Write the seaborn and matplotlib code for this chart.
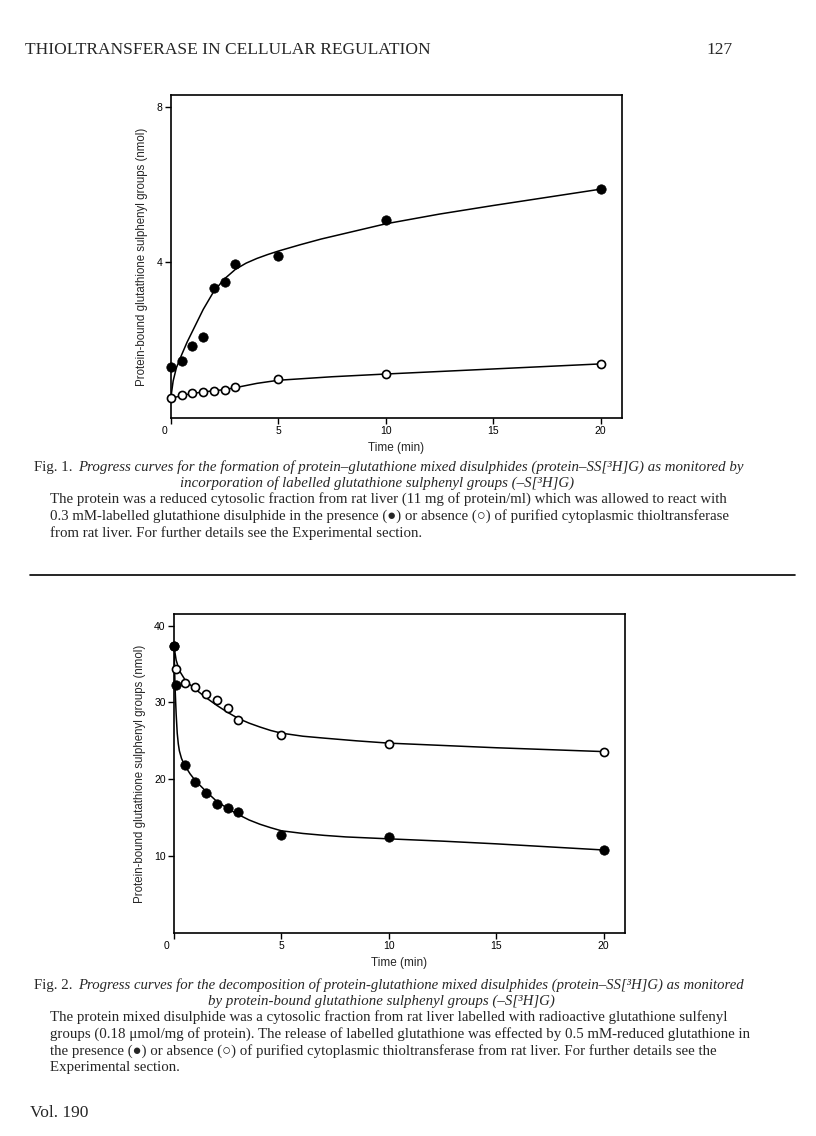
import numpy as np
import pandas as pd
import matplotlib
matplotlib.use("Agg")
import matplotlib.pyplot as plt
import matplotlib.transforms as mtransforms
import seaborn as sns

# ---------------- data ----------------
# Fig. 1 - formation of mixed disulphides
fig1_time = [0, 0.5, 1, 1.5, 2, 2.5, 3, 5, 10, 20]
fig1_with_enzyme = [1.30, 1.47, 1.86, 2.08, 3.34, 3.49, 3.96, 4.17, 5.08, 5.88]
fig1_without_enzyme = [0.52, 0.59, 0.65, 0.68, 0.70, 0.73, 0.80, 1.01, 1.13, 1.39]
fig1_curve_with_time = [0, 0.1, 0.25, 0.5, 0.75, 1, 1.5, 2, 2.5, 3, 3.5, 4, 4.5, 5, 6, 7, 8, 9, 10, 12.5, 15, 17.5, 20]
fig1_curve_with = [0.55, 0.95, 1.29, 1.63, 1.95, 2.23, 2.79, 3.26, 3.58, 3.82, 3.98, 4.10, 4.20, 4.29, 4.45, 4.60, 4.73, 4.86, 4.99, 5.24, 5.46, 5.67, 5.88]
fig1_curve_without_time = [0, 0.5, 1, 1.5, 2, 2.5, 3, 4, 5, 7.5, 10, 15, 20]
fig1_curve_without = [0.50, 0.58, 0.63, 0.67, 0.70, 0.73, 0.78, 0.89, 0.97, 1.06, 1.13, 1.26, 1.39]

# Fig. 2 - decomposition of mixed disulphides
fig2_time = [0, 0.1, 0.5, 1, 1.5, 2, 2.5, 3, 5, 10, 20]
fig2_with_enzyme = [37.4, 32.2, 21.9, 19.65, 18.2, 16.8, 16.2, 15.8, 12.8, 12.55, 10.8]
fig2_without_enzyme = [37.4, 34.4, 32.5, 32.0, 31.1, 30.3, 29.3, 27.7, 25.8, 24.6, 23.6]
fig2_curve_with_time = [0, 0.05, 0.1, 0.15, 0.2, 0.25, 0.35, 0.5, 0.75, 1, 1.5, 2, 2.5, 3, 3.5, 4, 4.5, 5, 6, 7, 8, 10, 12.5, 15, 17.5, 20]
fig2_curve_with = [37.3, 31.9, 28.5, 26.0, 24.6, 23.7, 22.7, 21.8, 20.7, 19.8, 18.4, 17.1, 16.2, 15.4, 14.7, 14.15, 13.7, 13.3, 12.95, 12.7, 12.5, 12.25, 11.95, 11.6, 11.2, 10.8]
fig2_curve_without_time = [0, 0.1, 0.2, 0.3, 0.5, 0.75, 1, 1.5, 2, 2.5, 3, 3.5, 4, 4.5, 5, 6, 7, 8.5, 10, 15, 20]
fig2_curve_without = [37.3, 35.5, 34.6, 33.9, 33.0, 32.3, 31.7, 30.6, 29.6, 28.7, 27.9, 27.3, 26.8, 26.35, 26.0, 25.6, 25.35, 25.0, 24.7, 24.1, 23.6]

x_ticks = [0, 5, 10, 15, 20]
fig1_y_ticks = [4, 8]
fig2_y_ticks = [10, 20, 30, 40]
y_label = "Protein-bound glutathione sulphenyl groups (nmol)"
x_label = "Time (min)"

header = "THIOLTRANSFERASE IN CELLULAR REGULATION"
page_no = "127"
footer = "Vol. 190"
fig1_title_a = "Progress curves for the formation of protein\u2013glutathione mixed disulphides (protein\u2013SS[\u00b3H]G) as monitored by"
fig1_title_b = "incorporation of labelled glutathione sulphenyl groups (\u2013S[\u00b3H]G)"
fig1_body = [
    "The protein was a reduced cytosolic fraction from rat liver (11 mg of protein/ml) which was allowed to react with",
    "0.3 mM-labelled glutathione disulphide in the presence (\u25cf) or absence (\u25cb) of purified cytoplasmic thioltransferase",
    "from rat liver. For further details see the Experimental section.",
]
fig2_title_a = "Progress curves for the decomposition of protein-glutathione mixed disulphides (protein\u2013SS[\u00b3H]G) as monitored"
fig2_title_b = "by protein-bound glutathione sulphenyl groups (\u2013S[\u00b3H]G)"
fig2_body = [
    "The protein mixed disulphide was a cytosolic fraction from rat liver labelled with radioactive glutathione sulfenyl",
    "groups (0.18 \u03bcmol/mg of protein). The release of labelled glutathione was effected by 0.5 mM-reduced glutathione in",
    "the presence (\u25cf) or absence (\u25cb) of purified cytoplasmic thioltransferase from rat liver. For further details see the",
    "Experimental section.",
]

# ---------------- figure ----------------
sns.set_style("ticks")
plt.rcParams["font.family"] = ["Liberation Sans", "DejaVu Sans"]
W, H = 816, 1136
fig = plt.figure(figsize=(W / 100, H / 100), dpi=100)
fig.patch.set_facecolor("white")
renderer = fig.canvas.get_renderer()

SERIF = ["Liberation Serif", "DejaVu Serif"]


def put(x_px, y_px, s, **kw):
    return fig.text(x_px / W, 1 - y_px / H, s, va="center", **kw)


def width(t):
    return t.get_window_extent(renderer).width


def panel(rect, ylim, yticks, t, with_e, without_e, ct_w, c_w, ct_wo, c_wo):
    ax = fig.add_axes(rect)
    sns.lineplot(x=ct_w, y=c_w, ax=ax, color="black", lw=1.1, sort=False, estimator=None)
    sns.lineplot(x=ct_wo, y=c_wo, ax=ax, color="black", lw=1.1, sort=False, estimator=None)
    sns.scatterplot(x=t, y=without_e, ax=ax, s=34, color="white", edgecolor="black",
                    linewidth=1.2, zorder=4, clip_on=False)
    sns.scatterplot(x=t, y=with_e, ax=ax, s=46, color="black", edgecolor="black",
                    linewidth=0.5, zorder=5, clip_on=False)
    ax.set_xlim(0, 21)
    ax.set_ylim(*ylim)
    ax.set_xticks(x_ticks)
    ax.set_yticks(yticks)
    ax.tick_params(direction="out", length=4, width=1, pad=2, labelsize=7.5, colors="black")
    for s in ax.spines.values():
        s.set_visible(True)
        s.set_linewidth(1.2)
        s.set_color("black")
    ax.set_xlabel(x_label, fontsize=8.5, labelpad=4)
    ax.set_ylabel(y_label, fontsize=8.3, labelpad=6)
    # origin label sits slightly left of the axis corner
    lbl = ax.get_xticklabels()[0]
    lbl.set_transform(lbl.get_transform() + mtransforms.ScaledTranslation(-7 / 100, 0, fig.dpi_scale_trans))
    return ax


ax1 = panel([171 / W, 1 - 418 / H, 451 / W, 323 / H], (0, 8.3), fig1_y_ticks,
            fig1_time, fig1_with_enzyme, fig1_without_enzyme,
            fig1_curve_with_time, fig1_curve_with, fig1_curve_without_time, fig1_curve_without)
ax2 = panel([174 / W, 1 - 933 / H, 451 / W, 319 / H], (0, 41.5), fig2_y_ticks,
            fig2_time, fig2_with_enzyme, fig2_without_enzyme,
            fig2_curve_with_time, fig2_curve_with, fig2_curve_without_time, fig2_curve_without)

# ---------------- page text ----------------
t = put(25, 50, header, family=SERIF, fontsize=10)
hsize = 10 * 407 / width(t)
t.set_fontsize(hsize)
put(733, 50, page_no, family=SERIF, fontsize=hsize, ha="right")
put(30, 1113, footer, family=SERIF, fontsize=hsize)

probe = put(50, 498, fig1_body[0], family=SERIF, fontsize=10)
bsize = 10 * 676 / width(probe)
probe.remove()


def caption(y0, label, title_a, title_b, body, cx, right):
    f = put(34, y0, label, family=SERIF, fontsize=bsize)
    x = 34 + width(f) + 6
    ta = put(x, y0, title_a, family=SERIF, fontsize=bsize, style="italic")
    w = width(ta)
    if x + w > right:
        ta.set_fontsize(bsize * (right - x) / w)
    put(cx, y0 + 16, title_b, family=SERIF, fontsize=bsize, style="italic", ha="center")
    for i, line in enumerate(body):
        put(50, y0 + 32 + 17 * i, line, family=SERIF, fontsize=bsize)


caption(467, "Fig. 1.", fig1_title_a, fig1_title_b, fig1_body, 377, 745)
caption(985, "Fig. 2.", fig2_title_a, fig2_title_b, fig2_body, 381, 745)

# horizontal rule between the two figures
fig.add_artist(plt.Line2D([30 / W, 795 / W], [1 - 575 / H, 1 - 575 / H], color="black", lw=1.2))

fig.savefig("out.png", dpi=100, facecolor="white")
